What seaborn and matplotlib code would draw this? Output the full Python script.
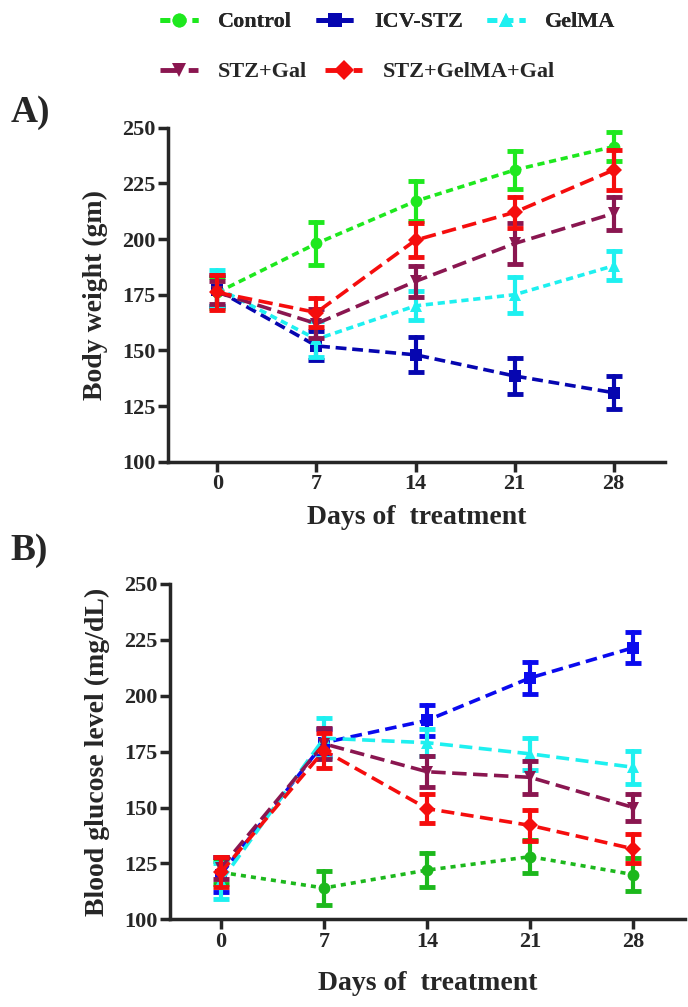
import matplotlib
matplotlib.use("Agg")
import pandas as pd
import matplotlib.pyplot as plt
from matplotlib.lines import Line2D
import seaborn as sns

sns.set_style("ticks")
plt.rcParams["font.family"] = ["Liberation Serif", "DejaVu Serif"]
plt.rcParams["font.weight"] = "bold"
plt.rcParams["axes.labelweight"] = "bold"

days = [0, 7, 14, 21, 28]
groups = ["Control", "ICV-STZ", "GelMA", "STZ+Gal", "STZ+GelMA+Gal"]

# A) body weight (gm): mean and SEM per group
bw_control = [176, 198, 217, 231, 241.5]
bw_control_err = [7, 9.5, 9, 8.6, 6.5]
bw_icv = [177, 152, 148, 138.5, 131]
bw_icv_err = [7, 6.5, 7.8, 8, 7.5]
bw_gelma = [178, 155, 170, 175, 188]
bw_gelma_err = [8, 8, 6.5, 8, 6.5]
bw_stzgal = [176, 162, 181, 198, 211.5]
bw_stzgal_err = [5, 6.5, 7, 9, 7.3]
bw_combo = [176, 167, 199.5, 212, 231]
bw_combo_err = [8, 6.7, 7.5, 7, 9]

# B) blood glucose level (mg/dL): mean and SEM per group
bg_control = [121, 114, 122, 128, 120]
bg_control_err = [5, 7.4, 7.5, 7.4, 7.5]
bg_icv = [120, 179, 189, 208, 221.5]
bg_icv_err = [8, 6, 7, 7, 7]
bg_gelma = [117, 181, 179, 174, 168]
bg_gelma_err = [8, 9, 6, 7, 7.5]
bg_stzgal = [123, 178.5, 166, 163.5, 150]
bg_stzgal_err = [5, 7, 7, 7.5, 6]
bg_combo = [121, 175.5, 149.5, 142, 131.5]
bg_combo_err = [6.7, 8, 6.5, 7, 6.5]


def long_table(means, errs):
    # two rows per point (mean - sem, mean + sem) so seaborn's mean and
    # min/max interval give back the reported mean and SEM bars
    rows = []
    for g, m, e in zip(groups, means, errs):
        for d, mv, ev in zip(days, m, e):
            rows.append({"day": d, "group": g, "value": mv - ev})
            rows.append({"day": d, "group": g, "value": mv + ev})
    return pd.DataFrame(rows)


df_a = long_table([bw_control, bw_icv, bw_gelma, bw_stzgal, bw_combo],
                  [bw_control_err, bw_icv_err, bw_gelma_err, bw_stzgal_err, bw_combo_err])
df_b = long_table([bg_control, bg_icv, bg_gelma, bg_stzgal, bg_combo],
                  [bg_control_err, bg_icv_err, bg_gelma_err, bg_stzgal_err, bg_combo_err])

markers = {"Control": "o", "ICV-STZ": "s", "GelMA": "^", "STZ+Gal": "v", "STZ+GelMA+Gal": "D"}
pal_a = {"Control": "#1ee81e", "ICV-STZ": "#0606b0", "GelMA": "#1ef0f0",
         "STZ+Gal": "#8a1650", "STZ+GelMA+Gal": "#f50d0d"}
pal_b = {"Control": "#1cb81c", "ICV-STZ": "#0a0aee", "GelMA": "#1ef0f0",
         "STZ+Gal": "#8a1650", "STZ+GelMA+Gal": "#f50d0d"}
dash_a = {"Control": (2, 1.3), "ICV-STZ": (3, 1.6), "GelMA": (2, 1.3),
          "STZ+Gal": (4, 1.8), "STZ+GelMA+Gal": (4, 1.8)}
dash_b = {"Control": (1.4, 1.4), "ICV-STZ": (3.2, 1.7), "GelMA": (3.6, 1.8),
          "STZ+Gal": (4, 1.8), "STZ+GelMA+Gal": (3.6, 1.8)}

fig = plt.figure(figsize=(6.88, 10.07), dpi=100)
ax_a = fig.add_axes([0.244, 0.5415, 0.722, 0.3317])
ax_b = fig.add_axes([0.247, 0.0871, 0.7485, 0.333])

for ax, df, pal, dsh in [(ax_a, df_a, pal_a, dash_a), (ax_b, df_b, pal_b, dash_b)]:
    sns.lineplot(data=df, x="day", y="value", hue="group", style="group",
                 hue_order=groups, style_order=groups, palette=pal,
                 markers=markers, dashes=dsh, estimator="mean",
                 errorbar=lambda v: (v.min(), v.max()), err_style="bars",
                 err_kws=dict(capsize=6, elinewidth=3, capthick=3.5),
                 linewidth=2.6, markersize=8.5, markeredgewidth=0,
                 legend=False, ax=ax)
    ax.set_ylim(100, 250)
    ax.set_yticks([100, 125, 150, 175, 200, 225, 250])
    ax.set_xticks(days)
    ax.tick_params(axis="both", direction="out", length=7, width=2.5,
                   labelsize=16, pad=2)
    for s in ["top", "right"]:
        ax.spines[s].set_visible(False)
    for s in ["left", "bottom"]:
        ax.spines[s].set_linewidth(2.5)
    for lab in ax.get_xticklabels() + ax.get_yticklabels():
        lab.set_fontweight("bold")

ax_a.set_xlim(-3.5, 31.6)
ax_b.set_xlim(-3.46, 31.5)
ax_a.set_xlabel("Days of  treatment", fontsize=20, labelpad=8)
ax_b.set_xlabel("Days of  treatment", fontsize=20, labelpad=14)
ax_a.set_ylabel("Body weight (gm)", fontsize=20, labelpad=10)
ax_b.set_ylabel("Blood glucose level (mg/dL)", fontsize=20, labelpad=10)

fig.text(0.015, 1 - 112 / 1007, "A)", fontsize=27, fontweight="bold", va="center")
fig.text(0.015, 1 - 550 / 1007, "B)", fontsize=27, fontweight="bold", va="center")

handles = {g: Line2D([], [], color=pal_a[g], marker=markers[g], markersize=10,
                     markeredgewidth=0, linewidth=3.5, dashes=dash_a[g])
           for g in groups}
row1 = ["Control", "ICV-STZ", "GelMA"]
row2 = ["STZ+Gal", "STZ+GelMA+Gal"]
leg1 = fig.legend([handles[g] for g in row1], row1, ncol=3, loc="center left",
                  bbox_to_anchor=(160 / 688, 1 - 22 / 1007), frameon=False,
                  fontsize=16, handlelength=1.7, handletextpad=0.9,
                  columnspacing=1.1, borderpad=0, borderaxespad=0)
fig.legend([handles[g] for g in row2], row2, ncol=2, loc="center left",
           bbox_to_anchor=(160 / 688, 1 - 72 / 1007), frameon=False,
           fontsize=16, handlelength=1.7, handletextpad=0.9,
           columnspacing=0.8, borderpad=0, borderaxespad=0)
fig.add_artist(leg1)
for leg in fig.legends:
    for t in leg.get_texts():
        t.set_fontweight("bold")

fig.savefig("out.png", dpi=100)
